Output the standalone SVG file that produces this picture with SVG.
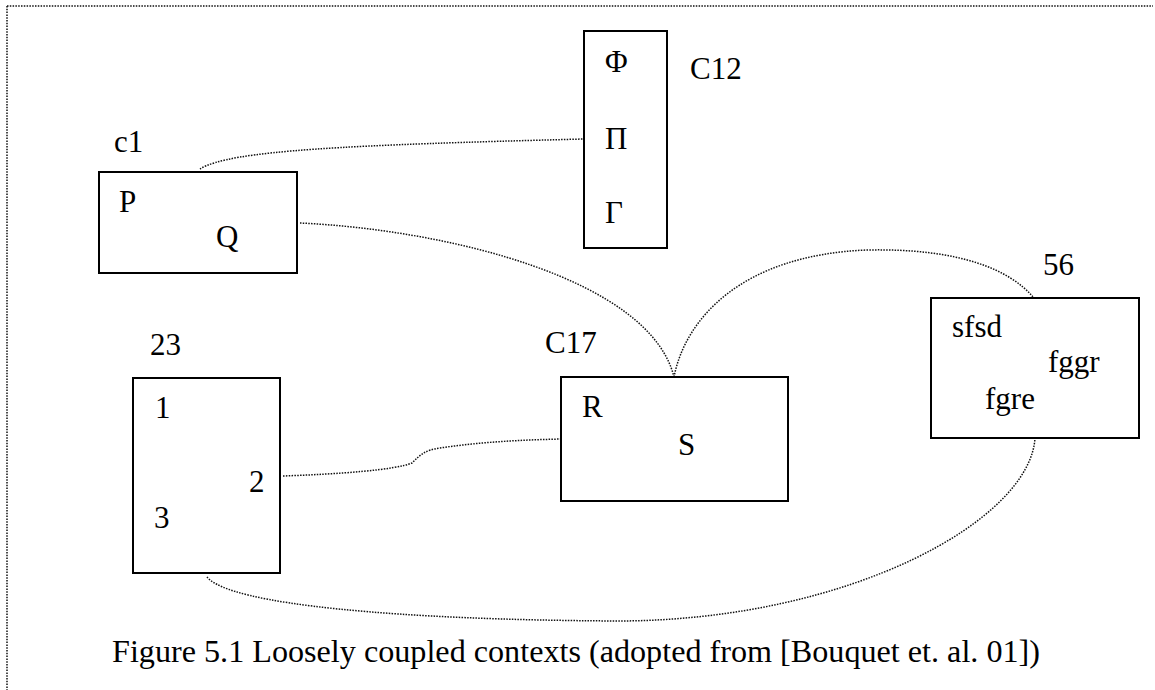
<svg xmlns="http://www.w3.org/2000/svg" width="1155" height="690" viewBox="0 0 1155 690">
<style>
.box{fill:#fff;stroke:#000;stroke-width:2}
.t{font-family:"Liberation Serif","Times New Roman",serif;font-size:31px;fill:#000}
.dot{fill:none;stroke:#111;stroke-width:1.5;stroke-dasharray:1.5 1.3}
</style>
<rect width="1155" height="690" fill="#fff"/>
<g id="frame">
<path class="dot" d="M7,6 L1153,6 M7,6 L7,690"/>
</g>
<g id="connectors">
<path class="dot" d="M200,169 C230,150 350,145 584,139"/>
<path class="dot" d="M300,223 C450,230 650,280 674,377"/>
<path class="dot" d="M674,377 C685,320 740,255 867,250 C960,248 1010,270 1033,297"/>
<path class="dot" d="M283,476 C340,474 395,470 412,463 C420,455 425,450 440,448 C480,442 520,440 561,439"/>
<path class="dot" d="M207,577 C230,605 400,620 620,621 C850,620 1030,520 1035,438"/>
</g>
<g id="node-c1">
<rect class="box" x="99" y="172" width="198" height="101"/>
<text class="t" x="114" y="152">c1</text>
<text class="t" x="119" y="212">P</text>
<text class="t" x="216" y="247">Q</text>
</g>
<g id="node-C12">
<rect class="box" x="584" y="31" width="83" height="217"/>
<text class="t" x="690" y="79">C12</text>
<text class="t" x="605" y="72">Φ</text>
<text class="t" x="605" y="149">Π</text>
<text class="t" x="605" y="223">Γ</text>
</g>
<g id="node-23">
<rect class="box" x="133" y="378" width="147" height="195"/>
<text class="t" x="150" y="355">23</text>
<text class="t" x="155" y="418">1</text>
<text class="t" x="249" y="492">2</text>
<text class="t" x="154" y="528">3</text>
</g>
<g id="node-C17">
<rect class="box" x="561" y="377" width="227" height="124"/>
<text class="t" x="545" y="353">C17</text>
<text class="t" x="582" y="417">R</text>
<text class="t" x="678" y="455">S</text>
</g>
<g id="node-56">
<rect class="box" x="931" y="298" width="208" height="140"/>
<text class="t" x="1043" y="275">56</text>
<text class="t" x="952" y="337">sfsd</text>
<text class="t" x="1048" y="372">fggr</text>
<text class="t" x="985" y="409">fgre</text>
</g>
<text class="t" x="112" y="662" font-size="30" textLength="928" lengthAdjust="spacingAndGlyphs">Figure 5.1 Loosely coupled contexts (adopted from [Bouquet et. al. 01])</text>
</svg>
